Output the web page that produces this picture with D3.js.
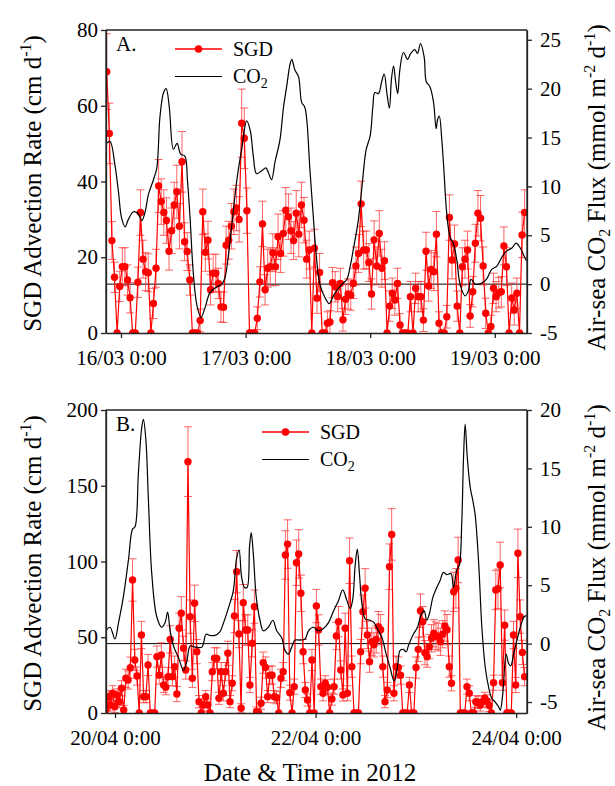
<!DOCTYPE html>
<html><head><meta charset="utf-8">
<script src="https://cdn.jsdelivr.net/npm/d3@7"></script>
<style>
body{margin:0;background:#fff}
svg{display:block}
text{font-family:"Liberation Serif","Times New Roman",Times,serif;fill:#000}
</style>
</head><body>
<svg id="chart" width="615" height="786"></svg>
<script>
// ---------------- DATA ----------------
// Panel A: SGD advection rate (cm/d), every 30 min from 15/03/2012 21:15
const sgdAStart = "2012-03-15 21:15";
const sgdAStepMin = 30;
const sgdA = [69, 52.7, 24.4, 14.7, 0, 12.3, 17.5, 17.5, 14, 9.3,
 0, 0, 13.4, 31.8, 19.5, 16.2, 15.9, 0, 7.8, 17.1,
 38.8, 34.7, 31.8, 29.7, 21.6, 27, 33.8, 37.3, 28.2, 45.2,
 24.1, 21.5, 14, 0, 0, 0, 3.3, 32, 21.3, 24.5,
 11.4, 15.8, 15.8, 13.1, 6.9, 6.8, 23.2, 24.5, 28.2, 32,
 33, 30, 55.4, 51.4, 32.3, 0, 0, 0, 3.9, 13.5,
 28.8, 11.4, 17.1, 17.5, 21.2, 17.5, 25.4, 21, 26.3, 32.4,
 30.7, 27, 24.4, 31.6, 26.1, 33.8, 29.8, 19.5, 21.9, 0,
 22.4, 9.2, 16, 0, 0, 2.6, 2.9, 13.3, 12.2, 9.6,
 13.1, 3.5, 8.9, 10.3, 10, 13.1, 17.7, 21, 34.1, 21.9,
 21.9, 18.6, 10.3, 24.6, 17.7, 26.3, 17.1, 19.1, 0, 7.1,
 10.5, 8.7, 13.1, 2.1, 0, 0, 0, 9.6, 0, 11.8,
 9.6, 9.6, 3.4, 21.6, 12.4, 16.8, 16.2, 26.1, 2.6, 0,
 0, 4.3, 30.5, 19.3, 23.5, 7.1, 0, 17.5, 19.5, 21.9,
 4.5, 10.9, 23.7, 31.6, 30.3, 17.7, 5.2, 0, 1.7, 11.8,
 9.6, 10.6, 10.9, 23, 17.5, 0, 9.2, 6.1, 10.5, 0,
 25.9, 31.8];
const sgdAErr = [10, 8, 5, 4, 0, 4, 5, 5, 4, 4,
 0, 0, 4, 6, 5, 5, 5, 0, 4, 5,
 7, 6, 6, 6, 5, 6, 6, 7, 6, 8,
 5, 5, 4, 0, 0, 0, 3, 6, 5, 5,
 4, 5, 5, 4, 4, 4, 5, 5, 6, 6,
 6, 6, 9, 8, 6, 0, 0, 0, 3, 4,
 6, 4, 5, 5, 5, 5, 6, 5, 6, 6,
 6, 6, 5, 6, 6, 6, 6, 5, 5, 0,
 5, 4, 5, 0, 0, 3, 3, 4, 4, 4,
 4, 3, 4, 4, 4, 4, 5, 5, 6, 5,
 5, 5, 4, 5, 5, 6, 5, 5, 0, 4,
 4, 4, 4, 3, 0, 0, 0, 4, 0, 4,
 4, 4, 3, 5, 4, 5, 5, 6, 3, 0,
 0, 3, 6, 5, 5, 4, 0, 5, 5, 5,
 3, 4, 5, 6, 6, 5, 4, 0, 3, 4,
 4, 4, 4, 5, 5, 0, 4, 4, 4, 0,
 6, 6];
// Panel A: air-sea CO2 flux (mmol m-2 d-1), hours after 16/03/2012 0:00
const co2AHours = [-2.8, -2.1, -1.2, -0.5, 0.1, 0.8, 1.4, 2.4, 3.3, 4.0,
 4.6, 5.3, 6.2, 6.9, 7.5, 8.2, 8.7, 9.3, 10.1, 10.8,
 11.5, 12.3, 12.8, 13.3, 13.9, 14.6, 15.4, 16.2, 17.1, 18.1,
 19.4, 20.0, 20.7, 21.3, 22.3, 23.3, 24.2, 24.9, 25.5, 26.1,
 27.1, 27.9, 28.4, 29.0, 29.7, 30.6, 31.3, 31.9, 32.6, 32.9,
 33.5, 34.2, 34.8, 35.4, 35.8, 36.4, 37.0, 37.6, 38.3, 39.3,
 40.1, 40.9, 42.2, 43.5, 44.1, 44.8, 45.7, 46.4, 47.2, 48.0,
 48.5, 48.9, 49.6, 50.2, 50.7, 51.2, 51.7, 52.1, 52.5, 52.9,
 53.3, 53.7, 54.4, 55.2, 55.8, 56.6, 57.1, 57.7, 58.4, 58.8,
 59.5, 60.2, 60.7, 61.0, 61.3, 61.8, 62.2, 62.7, 63.4, 64.0,
 64.7, 65.3, 66.3, 66.9, 67.4, 67.8, 68.2, 69.5, 70.4, 71.4,
 72.4, 73.3, 74.3, 75.3, 76.1, 76.9, 77.6, 78.1];
const co2A = [14.4, 14.6, 12.3, 9.5, 6.8, 5.85, 6.6, 7.4, 7.2, 6.5,
 7.3, 9.2, 10.6, 11.9, 17.1, 19.6, 20.0, 18.1, 13.8, 14.4,
 13.3, 13.1, 10.6, 6.8, 1.3, -2.1, -3.4, -2.4, -0.9, -0.4,
 0, 0.6, 3.0, 5.8, 10.6, 14.0, 16.7, 15.7, 13.0, 11.3,
 11.6, 11.9, 11.4, 10.7, 12.6, 14.7, 18.1, 20.2, 22.6, 23.0,
 21.9, 21.2, 18.6, 18.1, 16.7, 11.6, 7.2, 3.0, 0, -1.4,
 -2.0, -1.2, -0.2, 0.5, 1.7, 3.7, 6.5, 9.9, 13.7, 15.2,
 18.1, 19.6, 19.5, 20.7, 21.5, 19.6, 18.0, 21.0, 22.3, 20.7,
 19.5, 21.9, 23.7, 23.0, 23.6, 24.0, 23.6, 24.6, 23.2, 20.7,
 20.2, 18.6, 15.9, 16.9, 17.2, 14.7, 11.6, 7.5, 4.75, 4.2,
 2.4, 0, -1.2, -0.7, 0.5, 0.3, 0, 0.1, 0.5, 1.5,
 1.85, 2.7, 3.4, 3.7, 4.2, 3.7, 2.9, 2.4];

// Panel B: SGD advection rate (cm/d), from 19/04/2012 21:51, ~31.8 min sampling
const sgdBStart = "2012-04-19 21:51";
const sgdBStepMin = 31.8;
const sgdB = [2, 10.8, 5.3, 13, 4.2, 11.9, 7.5, 16.3, 2, 22.9,
 21.8, 29.9, 87.8, 35, 24.4, 0, 51.5, 10.8, 10.8, 31.7,
 0, 0, 0, 37.2, 25, 38.3, 18.5, 17, 24, 48.6,
 24, 30.6, 12.5, 55.9, 65.8, 42.7, 28.4, 165.9, 63.6, 22.9,
 72.4, 40.5, 7.5, 0, 5.3, 10.8, 5.3, 0, 27.3, 36.1,
 36, 9.7, 27.3, 13, 27.3, 39.4, 7.5, 19.6, 64, 93.3,
 52.1, 3.1, 72.8, 54.8, 54.8, 18.5, 46, 70.2, 1, 0,
 6.4, 33.2, 30, 10.8, 25, 25, 10.8, 10.1, 0, 22.9,
 27.3, 104.3, 111.5, 13.4, 0, 17.4, 99.2, 105, 79, 40.5,
 15.2, 8.6, 0, 35, 0, 70.6, 54.8, 17.4, 13, 19.6,
 17, 0, 9.2, 17.4, 50.8, 60.3, 28.4, 11.9, 55.9, 13,
 100.5, 30.6, 0, 0, 0, 40.5, 66.9, 82.3, 51.5, 33.9,
 47.1, 45, 48.6, 57, 55, 30.6, 7.5, 15.2, 96.6, 117.9,
 13, 30.6, 30, 25, 0, 0, 0, 18.5, 0, 0,
 30, 42, 67.5, 60.3, 39.8, 37.2, 43.8, 49.3, 52.6, 51,
 50, 47, 52, 57.4, 55, 30.6, 19.6, 80, 82.3, 101,
 0, 0, 0, 17.4, 13, 0, 0, 7.5, 7, 5.3,
 7.5, 9.7, 8, 5, 0, 20, 81.2, 82, 97.7, 20,
 58, 0, 0, 0, 51.5, 18.5, 105.4, 63.6, 40, 24];
const sgdBErr = [3, 4, 4, 5, 4, 4, 4, 5, 3, 6,
 6, 7, 14, 7, 6, 0, 9, 4, 4, 7,
 0, 0, 0, 7, 6, 8, 5, 5, 6, 9,
 6, 7, 5, 10, 11, 8, 6, 23, 11, 6,
 12, 8, 4, 0, 4, 4, 4, 0, 6, 7,
 7, 4, 6, 5, 6, 8, 4, 5, 11, 14,
 9, 3, 12, 10, 10, 5, 9, 11, 3, 0,
 4, 7, 7, 4, 6, 6, 4, 4, 0, 6,
 6, 16, 16, 5, 0, 5, 15, 16, 12, 8,
 5, 4, 0, 7, 0, 11, 10, 5, 5, 5,
 5, 0, 4, 5, 9, 10, 6, 4, 10, 5,
 15, 7, 0, 0, 0, 8, 11, 13, 9, 7,
 9, 8, 9, 10, 10, 7, 4, 5, 15, 17,
 5, 7, 7, 6, 0, 0, 0, 5, 0, 0,
 7, 8, 11, 10, 8, 7, 8, 9, 9, 9,
 9, 9, 9, 10, 10, 7, 5, 13, 13, 15,
 0, 0, 0, 5, 5, 0, 0, 4, 4, 4,
 4, 4, 4, 4, 0, 5, 13, 13, 15, 5,
 10, 0, 0, 0, 9, 5, 16, 11, 8, 6];
// Panel B: air-sea CO2 flux, hours after 20/04/2012 0:00
const co2BHours = [-2.15, -1.2, 0, 0.8, 2.0, 3.2, 4.2, 4.8, 5.6, 6.4,
 6.8, 7.4, 8.0, 8.8, 10.0, 11.2, 12.0, 12.6, 13.2, 14.0,
 15.2, 16.4, 17.2, 18.0, 19.2, 20.8, 21.8, 22.7, 23.9, 25.1,
 25.9, 27.1, 28.3, 29.1, 29.7, 30.3, 31.0, 31.6, 32.2, 32.6,
 33.1, 33.8, 34.7, 35.5, 36.7, 37.8, 38.7, 39.9, 40.7, 41.5,
 42.3, 43.1, 44.3, 45.5, 46.3, 47.5, 48.7, 49.9, 51.1, 52.3,
 53.5, 54.5, 55.5, 56.3, 56.9, 57.5, 58.0, 58.5, 59.1, 59.9,
 61.1, 62.0, 63.0, 63.9, 64.9, 65.8, 66.8, 67.6, 68.2, 69.0,
 69.7, 70.2, 71.4, 72.4, 73.2, 74.0, 74.6, 75.2, 76.1, 77.0,
 77.8, 78.6, 79.4, 80.4, 81.0, 81.8, 82.4, 83.0, 83.4, 83.8,
 84.3, 85.0, 85.6, 86.2, 87.0, 87.8, 88.6, 89.4, 90.2, 91.0,
 91.8, 92.2, 92.8, 93.6, 94.2, 94.7, 95.4, 96.2, 97.0, 97.9,
 98.5];
const co2B = [1.1, 1.4, 0.4, 1.7, 4.0, 7.1, 9.8, 10.0, 14.6, 18.5,
 19.2, 17.4, 12.3, 6.0, 2.3, 1.4, 1.8, 2.7, 1.1, -0.2,
 -1.2, -2.3, -1.5, -0.2, -0.3, -0.3, 0.8, 0.7, 0.7, 1.0,
 1.7, 3.0, 4.5, 7.3, 8.0, 5.7, 4.8, 4.8, 8.3, 9.5,
 7.7, 4.0, 2.0, 1.1, 1.4, 2.0, 1.1, 0.5, -0.6, -0.9,
 -0.3, 0.3, 0.3, 0.4, 1.1, 1.4, 1.1, 1.3, 1.8, 2.8,
 3.7, 4.6, 3.7, 3.0, 3.8, 6.8, 8.1, 6.0, 3.4, 2.1,
 2.0, 1.8, 1.1, 0.5, -0.9, -2.0, -3.2, -2.0, -0.6, -0.5,
 -0.7, -0.2, 0.8, 1.4, 2.4, 2.8, 2.0, 2.5, 4.0, 4.8,
 5.4, 6.1, 5.9, 6.0, 4.8, 6.3, 6.7, 10.5, 15.8, 18.8,
 16.0, 13.4, 12.3, 11.0, 7.1, 1.4, -2.0, -3.7, -4.7, -5.0,
 -5.4, -5.7, -4.3, -0.9, -1.7, -1.9, -0.9, 0.3, 1.4, 2.3,
 2.4];

// Axes definitions
const leftTicksA = [0, 20, 40, 60, 80];
const rightTicksA = [-5, 0, 5, 10, 15, 20, 25];
const dayTicksA = ["2012-03-16 0:00", "2012-03-17 0:00", "2012-03-18 0:00", "2012-03-19 0:00"];
const leftTicksB = [0, 50, 100, 150, 200];
const rightTicksB = [-5, 0, 5, 10, 15, 20];
const dayTicksB = ["2012-04-20 0:00", "2012-04-22 0:00", "2012-04-24 0:00"];
const legendLabels = ["SGD", "CO2"];
const xTitle = "Date & Time in 2012";

// ---------------- DRAWING ----------------
const FONT = '"Liberation Serif", "Times New Roman", serif';
const parse = d3.timeParse("%Y-%m-%d %H:%M");
const fmt = d3.timeFormat("%d/%m %-H:%M");
const HOUR = 3600e3;
const svg = d3.select("#chart");
const RED = "#ff0000";

function drawPanel(cfg) {
  const g = svg.append("g");
  const day0 = parse(cfg.day0);
  const x = d3.scaleTime()
    .domain([new Date(+day0 + cfg.xDom[0] * HOUR), new Date(+day0 + cfg.xDom[1] * HOUR)])
    .range([cfg.left, cfg.right]);
  const yL = d3.scaleLinear().domain(cfg.yLDom).range([cfg.bottom, cfg.top]);
  const yR = d3.scaleLinear().domain(cfg.yRDom).range([cfg.bottom, cfg.top]);

  const clipId = "clip" + cfg.id;
  svg.append("clipPath").attr("id", clipId).append("rect")
    .attr("x", cfg.left).attr("y", cfg.top)
    .attr("width", cfg.right - cfg.left).attr("height", cfg.bottom - cfg.top);

  const start = parse(cfg.sgdStart);
  const sgd = cfg.sgd.map((v, i) => ({t: new Date(+start + i * cfg.stepMin * 60e3), v, e: cfg.err[i]}));
  const co2 = cfg.co2.map((v, i) => ({t: new Date(+day0 + cfg.co2Hours[i] * HOUR), v}));

  const plot = g.append("g").attr("clip-path", `url(#${clipId})`);

  // zero flux line
  plot.append("line")
    .attr("x1", cfg.left).attr("x2", cfg.right)
    .attr("y1", yR(0)).attr("y2", yR(0))
    .attr("stroke", "#000").attr("stroke-width", 1);

  // error bars
  const eb = plot.append("g").attr("stroke", "#ff3030").attr("stroke-opacity", 0.75).attr("stroke-width", 1);
  sgd.filter(d => d.e > 0).forEach(d => {
    const cx = x(d.t), y1 = yL(Math.max(0, d.v - d.e)), y2 = yL(d.v + d.e);
    eb.append("line").attr("x1", cx).attr("x2", cx).attr("y1", y1).attr("y2", y2);
    eb.append("line").attr("x1", cx - 4).attr("x2", cx + 4).attr("y1", y2).attr("y2", y2);
    if (d.v - d.e > 0) eb.append("line").attr("x1", cx - 4).attr("x2", cx + 4).attr("y1", y1).attr("y2", y1);
  });

  // SGD line + dots
  plot.append("path").datum(sgd)
    .attr("fill", "none").attr("stroke", RED).attr("stroke-width", 1.2)
    .attr("d", d3.line().x(d => x(d.t)).y(d => yL(d.v)));
  plot.append("g").selectAll("circle").data(sgd).join("circle")
    .attr("cx", d => x(d.t)).attr("cy", d => yL(d.v)).attr("r", 3.7).attr("fill", RED);

  // CO2 line
  plot.append("path").datum(co2)
    .attr("fill", "none").attr("stroke", "#000").attr("stroke-width", 1.2)
    .attr("d", d3.line().x(d => x(d.t)).y(d => yR(d.v)).curve(d3.curveCatmullRom.alpha(0.5)));

  // frame top
  g.append("line").attr("x1", cfg.left).attr("x2", cfg.right).attr("y1", cfg.top).attr("y2", cfg.top)
    .attr("stroke", "#222").attr("stroke-width", 1.3);

  // axes
  const styleAxis = sel => {
    sel.attr("font-family", null).attr("font-size", null);
    sel.selectAll("path.domain").attr("stroke", "#222").attr("stroke-width", 1.3);
    sel.selectAll(".tick line").attr("stroke", "#222").attr("stroke-width", 1.3);
    sel.selectAll("text").style("font-size", "21px").style("font-family", FONT).attr("fill", "#000");
  };
  g.append("g").attr("transform", `translate(${cfg.left},0)`)
    .call(d3.axisLeft(yL).tickValues(cfg.leftTicks).tickSize(5).tickPadding(3).tickSizeOuter(0))
    .call(styleAxis);
  g.append("g").attr("transform", `translate(${cfg.right},0)`)
    .call(d3.axisRight(yR).tickValues(cfg.rightTicks).tickSize(5).tickPadding(8).tickSizeOuter(0)
      .tickFormat(d => d < 0 ? "-" + Math.abs(d) : d))
    .call(styleAxis);
  g.append("line").attr("x1", cfg.right).attr("x2", cfg.right).attr("y1", cfg.top).attr("y2", cfg.bottom)
    .attr("stroke", "#222").attr("stroke-width", 1.3);
  g.append("line").attr("x1", cfg.left).attr("x2", cfg.left).attr("y1", cfg.top).attr("y2", cfg.bottom)
    .attr("stroke", "#222").attr("stroke-width", 1.3);
  g.append("g").attr("transform", `translate(0,${cfg.bottom})`)
    .call(d3.axisBottom(x).tickValues(cfg.dayTicks.map(parse)).tickFormat(fmt).tickSize(5).tickPadding(12).tickSizeOuter(0))
    .call(styleAxis);

  // panel letter
  g.append("text").attr("x", cfg.left + 10).attr("y", cfg.top + 21).style("font-size", "21px").text(cfg.letter);

  // legend
  const lg = g.append("g").attr("transform", `translate(${cfg.legX},${cfg.legY})`);
  lg.append("line").attr("x1", 0).attr("x2", 47).attr("y1", 0).attr("y2", 0).attr("stroke", RED).attr("stroke-width", 1.3);
  lg.append("circle").attr("cx", 23.5).attr("cy", 0).attr("r", 3.8).attr("fill", RED);
  lg.append("text").attr("x", 58).attr("y", 6.7).style("font-size", "20px").text(legendLabels[0]);
  lg.append("line").attr("x1", 0).attr("x2", 47).attr("y1", 27.5).attr("y2", 27.5).attr("stroke", "#000").attr("stroke-width", 1.2);
  const t2 = lg.append("text").attr("x", 58).attr("y", 34.2).style("font-size", "20px");
  t2.append("tspan").text(legendLabels[1].slice(0, 2));
  t2.append("tspan").style("font-size", "14px").attr("dy", 5).text(legendLabels[1].slice(2));

  // left title
  const cy = (cfg.top + cfg.bottom) / 2;
  const lt = g.append("text").attr("transform", `translate(41,${cy + 2}) rotate(-90)`)
    .attr("text-anchor", "middle").style("font-size", "25px");
  lt.append("tspan").text("SGD Advection Rate (cm d");
  lt.append("tspan").style("font-size", "16px").attr("dy", -10).text("-1");
  lt.append("tspan").attr("dy", 10).text(")");

  // right title
  const rt = g.append("text").attr("transform", `translate(605,${cy + 6}) rotate(-90)`)
    .attr("text-anchor", "middle").style("font-size", "25px");
  rt.append("tspan").text("Air-sea CO");
  rt.append("tspan").style("font-size", "16px").attr("dy", 5).text("2");
  rt.append("tspan").attr("dy", -5).text(" Flux (mmol m");
  rt.append("tspan").style("font-size", "16px").attr("dy", -10).text("-2");
  rt.append("tspan").attr("dy", 10).text(" d");
  rt.append("tspan").style("font-size", "16px").attr("dy", -10).text("-1");
  rt.append("tspan").attr("dy", 10).text(")");
}

drawPanel({
  id: "A", letter: "A.", left: 106, right: 527, top: 30, bottom: 333,
  day0: "2012-03-16 0:00", xDom: [-2.89, 78.2],
  yLDom: [0, 80], yRDom: [-5, 26],
  leftTicks: leftTicksA, rightTicks: rightTicksA, dayTicks: dayTicksA,
  sgdStart: sgdAStart, stepMin: sgdAStepMin, sgd: sgdA, err: sgdAErr,
  co2Hours: co2AHours, co2: co2A, legX: 175, legY: 49
});
drawPanel({
  id: "B", letter: "B.", left: 106, right: 527, top: 410, bottom: 713,
  day0: "2012-04-20 0:00", xDom: [-2.15, 98.6],
  yLDom: [0, 200], yRDom: [-5.94, 20],
  leftTicks: leftTicksB, rightTicks: rightTicksB, dayTicks: dayTicksB,
  sgdStart: sgdBStart, stepMin: sgdBStepMin, sgd: sgdB, err: sgdBErr,
  co2Hours: co2BHours, co2: co2B, legX: 262, legY: 432
});

svg.append("text").attr("x", 310).attr("y", 781).attr("text-anchor", "middle")
  .style("font-size", "25px").text(xTitle);
</script>
</body></html>
